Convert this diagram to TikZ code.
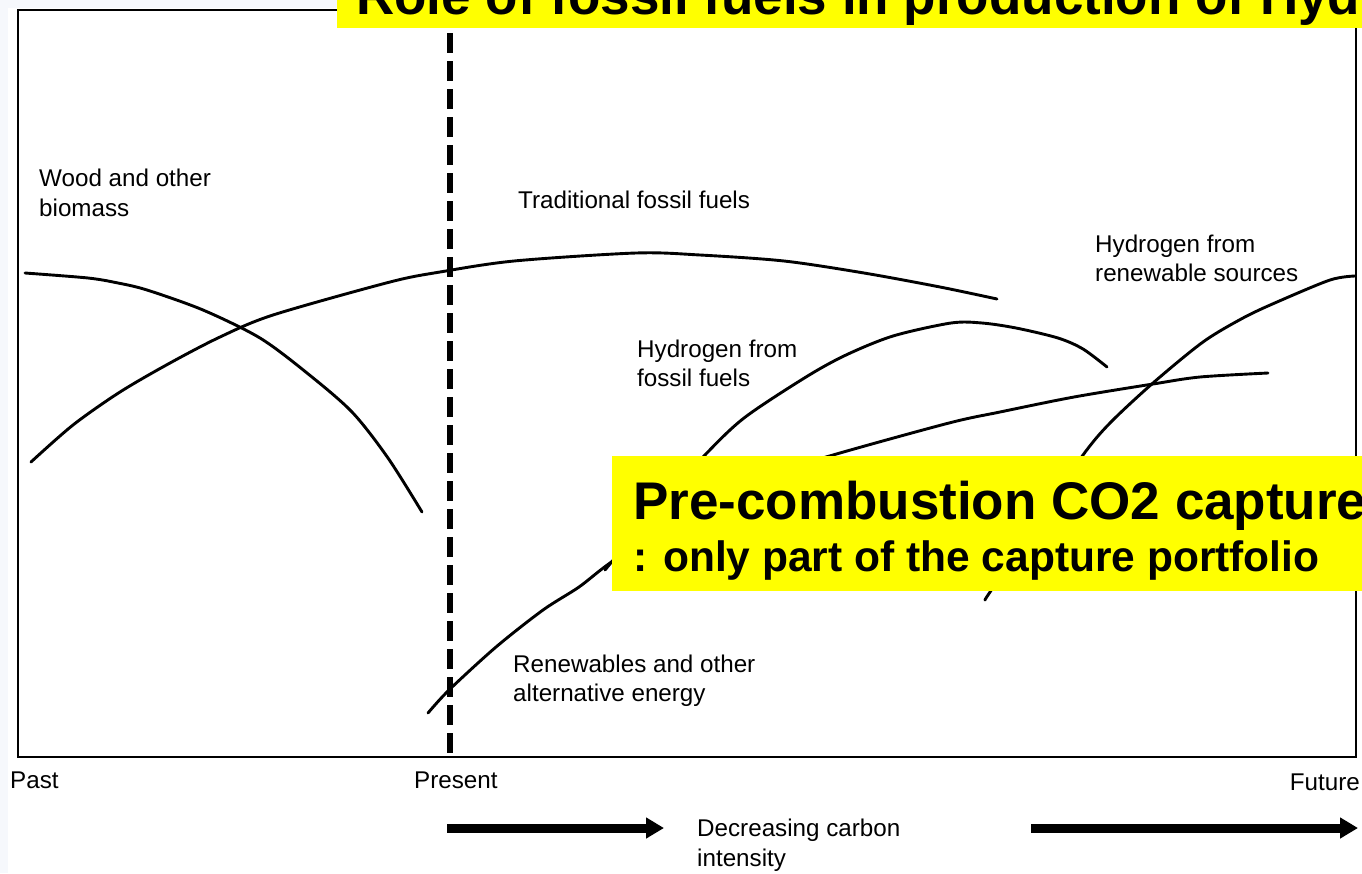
\documentclass[tikz,border=0pt]{standalone}
\usepackage{fontspec}
\setmainfont{Liberation Sans}
\usetikzlibrary{arrows.meta}
\definecolor{pagebg}{RGB}{246,248,252}
\definecolor{hiyellow}{RGB}{255,255,0}
\tikzset{
  lbl/.style={anchor=base west, inner sep=0pt, font=\fontsize{24.2}{28}\selectfont},
  curve/.style={line width=2.9pt, line join=round, line cap=round},
  bigarrow/.style={line width=9pt, -{Triangle[length=18pt,width=20pt]}},
  banner/.style={fill=hiyellow, draw=none},
  bigtxt/.style={anchor=base west, inner sep=0pt, font=\fontsize{53}{60}\bfseries\selectfont},
  midtxt/.style={anchor=base west, inner sep=0pt, font=\fontsize{42.5}{48}\bfseries\selectfont},
}
\begin{document}
\begin{tikzpicture}[x=1pt,y=-1pt]
\useasboundingbox (0,0) rectangle (1362,873);
\fill[pagebg] (0,0) rectangle (1362,873);
\fill[white] (8,8) rectangle (1362,873);
% frame
\draw[line width=2.9pt] (18,10) rectangle (1356,757);
% curves
\draw[curve] plot[smooth, tension=0.5] coordinates {(25,273) (88,278) (118,283) (147,290) (203,310) (260,338) (307,373) (352,412) (388,458) (422,512)};
\draw[curve] plot[smooth, tension=0.5] coordinates {(31,462) (73,425) (120,392) (170,363) (220,337) (273,315) (390,282) (440,272) (514,261) (636,253) (700,255) (784,261) (864,273) (940,287) (997,299)};
\draw[curve] plot[smooth, tension=0.5] coordinates {(605,570) (630,540) (665,500) (704,456) (744,418) (806,377) (846,355) (893,336) (951,323) (982,323) (1016,328) (1058,338) (1083,349) (1107,367)};
\draw[curve] plot[smooth, tension=0.5] coordinates {(428,713) (449,690) (496,647) (543,610) (579,587) (610,563) (680,515) (760,478) (833,455) (949,423) (1000,412) (1074,397) (1153,384) (1200,377) (1268,373)};
\draw[curve] plot[smooth, tension=0.5] coordinates {(985,600) (990,592) (1035,525) (1083,455) (1110,423) (1153,383) (1203,342) (1243,318) (1277,302) (1330,280) (1355,276)};
% present line
\coordinate (pt) at (450,33);
\coordinate (pb) at (450,757);
\draw[line width=5.5pt, dash pattern=on 20pt off 8pt] (pt) -- (pb);
% labels
\node[lbl] (w1) at (39,186) {Wood and other};
\node[lbl] (w2) at (39,216) {biomass};
\node[lbl] (tf) at (518,208) {Traditional fossil fuels};
\node[lbl] (hr1) at (1095,252) {Hydrogen from};
\node[lbl] (hr2) at (1095,281) {renewable sources};
\node[lbl] (hf1) at (637,357) {Hydrogen from};
\node[lbl] (hf2) at (637,386) {fossil fuels};
\node[lbl] (re1) at (513,672) {Renewables and other};
\node[lbl] (re2) at (513,701) {alternative energy};
\node[lbl] (past) at (10,788) {Past};
\node[lbl] (pres) at (414,788) {Present};
\node[lbl, anchor=base east] (fut) at (1360,790) {Future};
\node[lbl] (dc1) at (697,836) {Decreasing carbon};
\node[lbl] (dc2) at (697,866) {intensity};
% arrows
\coordinate (a1s) at (447,828);
\coordinate (a1e) at (664,828);
\coordinate (a2s) at (1031,828);
\coordinate (a2e) at (1358,828);
\draw[bigarrow] (a1s) -- (a1e);
\draw[bigarrow] (a2s) -- (a2e);
% banners
\fill[banner] (337,-2) rectangle (1364,27.5);
\node[bigtxt] (title) at (356,14) {Role of fossil fuels in production of Hydrogen};
\fill[banner] (612,456) rectangle (1364,591);
\node[bigtxt] (pc1) at (633,519) {Pre-combustion CO2 capture};
\node[midtxt] (pc2) at (633,571) {: only part of the capture portfolio};
\end{tikzpicture}
\end{document}
